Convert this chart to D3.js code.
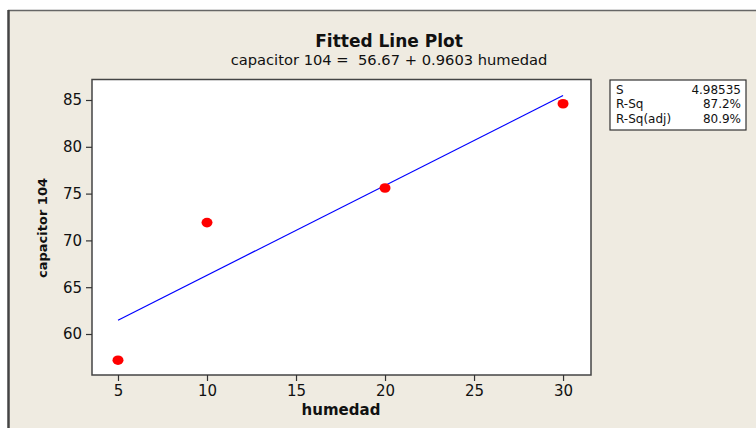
<!doctype html>
<html>
<head>
<meta charset="utf-8">
<script src="https://cdn.jsdelivr.net/npm/d3@7"></script>
<style>
  body { margin: 0; background: #ffffff; }
  text { font-family: "DejaVu Sans", Verdana, sans-serif; fill: #111; }
</style>
</head>
<body>
<svg id="chart" width="756" height="428"></svg>
<script>
// data
var humedad = [5, 10, 20, 30];
var capacitor = [57.2, 71.9, 75.6, 84.6];
var fitCoef = [56.67, 0.9603];      // intercept, slope
var xTicks = [5, 10, 15, 20, 25, 30];
var yTicks = [60, 65, 70, 75, 80, 85];
var statNames = ["S", "R-Sq", "R-Sq(adj)"];
var statValues = ["4.98535", "87.2%", "80.9%"];

var svg = d3.select("#chart");

// beige panel with frame
svg.append("rect").attr("x", 8).attr("y", 10).attr("width", 760).attr("height", 430)
   .attr("fill", "#efebe1");
svg.append("line").attr("x1", 8).attr("x2", 756).attr("y1", 10.5).attr("y2", 10.5)
   .attr("stroke", "#666").attr("stroke-width", 1.5);
svg.append("line").attr("x1", 8.5).attr("x2", 8.5).attr("y1", 10).attr("y2", 428)
   .attr("stroke", "#444").attr("stroke-width", 2.5);

var pLeft = 92, pRight = 591, pTop = 79.5, pBottom = 375;

var x = d3.scaleLinear().domain([3.54, 31.57]).range([pLeft, pRight]);
var y = d3.scaleLinear().domain([55.62, 87.19]).range([pBottom, pTop]);

// plot area
svg.append("rect").attr("x", pLeft).attr("y", pTop)
   .attr("width", pRight - pLeft).attr("height", pBottom - pTop)
   .attr("fill", "#fff").attr("stroke", "#444").attr("stroke-width", 1.5);

// axes
var xAxis = svg.append("g").attr("transform", "translate(0," + pBottom + ")")
   .call(d3.axisBottom(x).tickValues(xTicks).tickSize(6).tickSizeOuter(0).tickPadding(4));
var yAxis = svg.append("g").attr("transform", "translate(" + pLeft + ",0)")
   .call(d3.axisLeft(y).tickValues(yTicks).tickSize(6).tickSizeOuter(0).tickPadding(4));
[xAxis, yAxis].forEach(function(a) {
  a.select(".domain").remove();
  a.selectAll("line").attr("stroke", "#333").attr("stroke-width", 1.2);
  a.selectAll("text").attr("font-size", "15px").attr("fill", "#222")
   .attr("font-family", "'DejaVu Sans', Verdana, sans-serif");
});

// fitted line
var fx = d3.extent(humedad);
svg.append("path")
   .datum(fx.map(function(v) { return [v, fitCoef[0] + fitCoef[1] * v]; }))
   .attr("fill", "none").attr("stroke", "#0000ff").attr("stroke-width", 1.2)
   .attr("d", d3.line().x(function(d) { return x(d[0]); }).y(function(d) { return y(d[1]); }));

// points
svg.selectAll(".pt").data(humedad).enter().append("ellipse")
   .attr("class", "pt")
   .attr("cx", function(d) { return x(d); })
   .attr("cy", function(d, i) { return y(capacitor[i]); })
   .attr("rx", 5.5).attr("ry", 4.8)
   .attr("fill", "#ff0000");

// titles
svg.append("text").attr("x", 389).attr("y", 47).attr("text-anchor", "middle")
   .attr("font-size", "17px").attr("font-weight", "bold").text("Fitted Line Plot");
svg.append("text").attr("x", 389).attr("y", 65).attr("text-anchor", "middle")
   .attr("font-size", "14.7px").attr("xml:space", "preserve")
   .text("capacitor 104 =  56.67 + 0.9603 humedad");
svg.append("text").attr("x", 341).attr("y", 415).attr("text-anchor", "middle")
   .attr("font-size", "15px").attr("font-weight", "bold").text("humedad");
svg.append("text").attr("transform", "translate(47,228) rotate(-90)")
   .attr("text-anchor", "middle").attr("font-size", "13px").attr("font-weight", "bold")
   .text("capacitor 104");

// stats box
var box = svg.append("g");
box.append("rect").attr("x", 610).attr("y", 80).attr("width", 136).attr("height", 50)
   .attr("fill", "#fff").attr("stroke", "#333").attr("stroke-width", 1.2);
box.selectAll(".sn").data(statNames).enter().append("text")
   .attr("x", 616).attr("y", function(d, i) { return 93.5 + i * 14.5; })
   .attr("font-size", "12px").text(function(d) { return d; });
box.selectAll(".sv").data(statValues).enter().append("text")
   .attr("x", 741).attr("y", function(d, i) { return 93.5 + i * 14.5; })
   .attr("text-anchor", "end").attr("font-size", "12px").text(function(d) { return d; });
</script>
</body>
</html>
